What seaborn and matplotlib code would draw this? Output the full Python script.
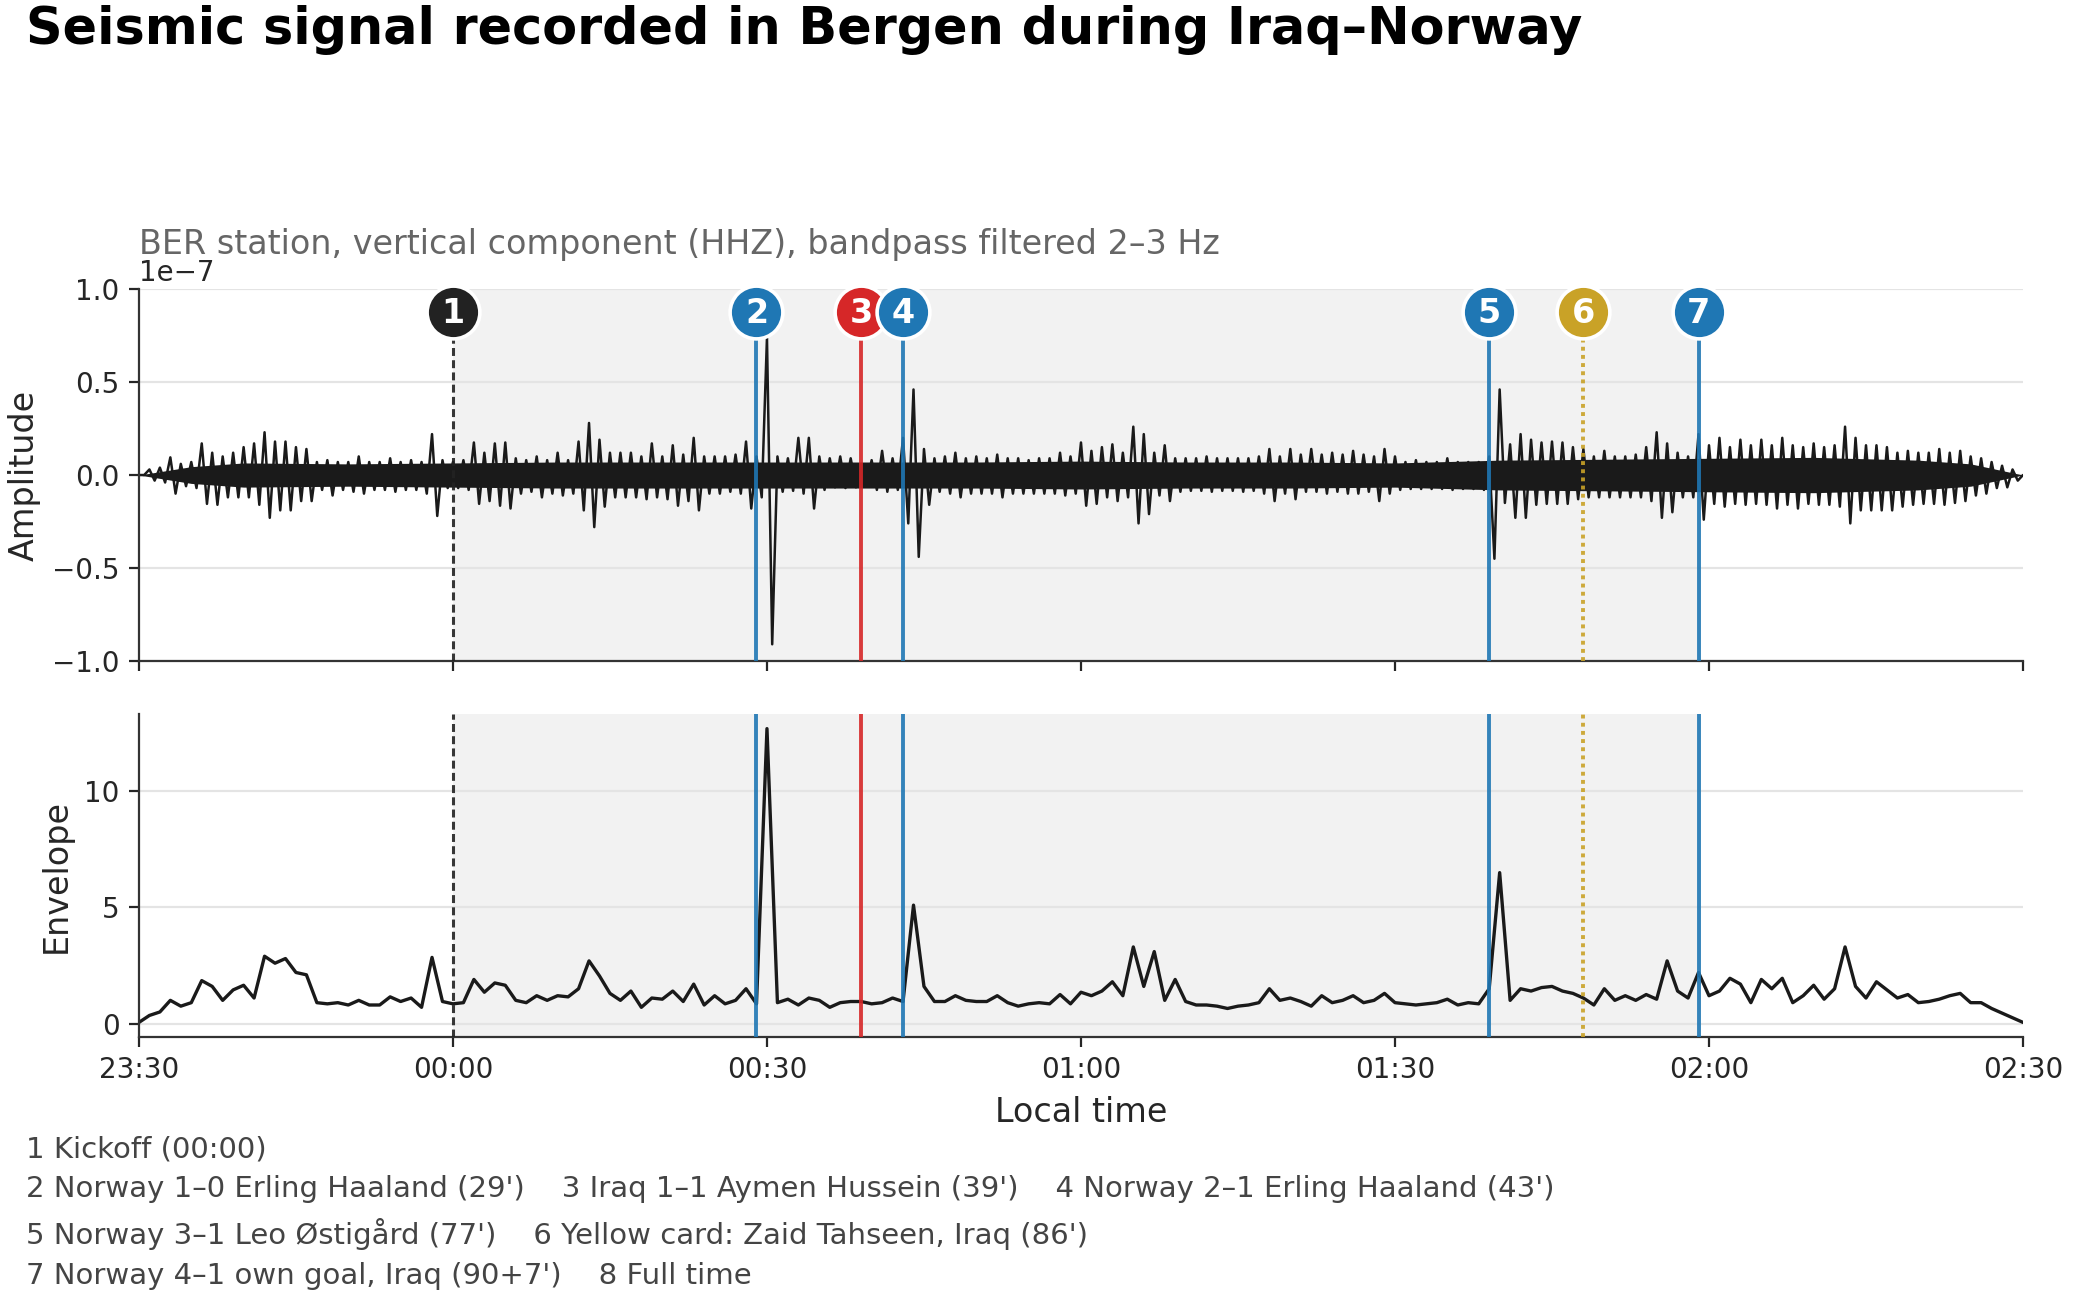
import numpy as np
import pandas as pd
import matplotlib
matplotlib.use("Agg")
import matplotlib.pyplot as plt
import matplotlib.transforms as mtransforms
import seaborn as sns

# readings are per minute after 23:30 local time (0..180)
envelope = [
    0.05, 0.35, 0.5, 1.0, 0.75, 0.9, 1.85, 1.6, 1.0, 1.45,
    1.65, 1.1, 2.9, 2.6, 2.8, 2.2, 2.1, 0.9, 0.85, 0.9,
    0.8, 1.0, 0.8, 0.8, 1.15, 0.95, 1.1, 0.7, 2.85, 0.95,
    0.85, 0.9, 1.9, 1.35, 1.75, 1.65, 1.0, 0.9, 1.2, 1.0,
    1.2, 1.15, 1.5, 2.7, 2.05, 1.3, 1.0, 1.4, 0.7, 1.1,
    1.05, 1.4, 0.95, 1.7, 0.8, 1.2, 0.85, 1.0, 1.5, 0.85,
    12.7, 0.9, 1.05, 0.8, 1.1, 1.0, 0.7, 0.9, 0.95, 0.95,
    0.85, 0.9, 1.1, 0.95, 5.1, 1.6, 0.95, 0.95, 1.2, 1.0,
    0.95, 0.95, 1.2, 0.9, 0.75, 0.85, 0.9, 0.85, 1.25, 0.85,
    1.35, 1.2, 1.4, 1.8, 1.2, 3.3, 1.6, 3.1, 1.0, 1.9,
    0.95, 0.8, 0.8, 0.75, 0.65, 0.75, 0.8, 0.9, 1.5, 1.0,
    1.1, 0.95, 0.75, 1.2, 0.9, 1.0, 1.2, 0.9, 1.0, 1.3,
    0.9, 0.85, 0.8, 0.85, 0.9, 1.05, 0.8, 0.9, 0.85, 1.5,
    6.5, 1.0, 1.5, 1.4, 1.55, 1.6, 1.4, 1.3, 1.1, 0.8,
    1.5, 1.0, 1.2, 1.0, 1.25, 1.05, 2.7, 1.4, 1.1, 2.2,
    1.2, 1.4, 1.95, 1.7, 0.9, 1.9, 1.5, 1.95, 0.9, 1.2,
    1.65, 1.05, 1.5, 3.3, 1.6, 1.1, 1.8, 1.45, 1.1, 1.25,
    0.9, 0.95, 1.05, 1.2, 1.3, 0.9, 0.9, 0.65, 0.45, 0.25, 0.05,
]

# waveform peaks (upper) and troughs (lower) per minute, in 1e-7
wave_hi = [
    0.0, 0.03, 0.04, 0.095, 0.06, 0.07, 0.17, 0.12, 0.1, 0.12,
    0.15, 0.17, 0.23, 0.18, 0.18, 0.15, 0.14, 0.07, 0.08, 0.07,
    0.07, 0.1, 0.07, 0.07, 0.09, 0.07, 0.08, 0.07, 0.22, 0.08,
    0.07, 0.08, 0.175, 0.12, 0.17, 0.175, 0.09, 0.08, 0.1, 0.08,
    0.12, 0.08, 0.18, 0.28, 0.19, 0.12, 0.12, 0.12, 0.1, 0.17,
    0.1, 0.16, 0.11, 0.2, 0.1, 0.1, 0.1, 0.11, 0.18, 0.1,
    0.74, 0.1, 0.09, 0.2, 0.2, 0.1, 0.09, 0.1, 0.09, 0.06,
    0.08, 0.13, 0.09, 0.2, 0.46, 0.14, 0.09, 0.1, 0.12, 0.09,
    0.1, 0.09, 0.11, 0.09, 0.09, 0.08, 0.09, 0.09, 0.12, 0.1,
    0.175, 0.13, 0.15, 0.165, 0.12, 0.26, 0.22, 0.12, 0.16, 0.09,
    0.09, 0.09, 0.1, 0.09, 0.09, 0.09, 0.09, 0.1, 0.14, 0.1,
    0.14, 0.11, 0.14, 0.11, 0.12, 0.11, 0.13, 0.11, 0.1, 0.14,
    0.1, 0.07, 0.08, 0.07, 0.07, 0.09, 0.07, 0.07, 0.07, 0.1,
    0.46, 0.165, 0.22, 0.19, 0.175, 0.18, 0.175, 0.15, 0.14, 0.1,
    0.13, 0.1, 0.1, 0.11, 0.15, 0.23, 0.17, 0.12, 0.1, 0.22,
    0.16, 0.2, 0.15, 0.19, 0.16, 0.19, 0.16, 0.2, 0.16, 0.15,
    0.17, 0.15, 0.16, 0.26, 0.2, 0.16, 0.16, 0.15, 0.12, 0.13,
    0.12, 0.12, 0.14, 0.12, 0.13, 0.1, 0.09, 0.07, 0.05, 0.03, 0.0,
]
wave_lo = [
    0.0, -0.03, -0.04, -0.1, -0.06, -0.07, -0.155, -0.16, -0.12, -0.12,
    -0.12, -0.16, -0.23, -0.19, -0.19, -0.14, -0.14, -0.08, -0.11, -0.08,
    -0.09, -0.1, -0.08, -0.08, -0.09, -0.08, -0.08, -0.1, -0.22, -0.07,
    -0.07, -0.08, -0.155, -0.14, -0.165, -0.18, -0.1, -0.09, -0.12, -0.1,
    -0.11, -0.1, -0.19, -0.28, -0.17, -0.12, -0.12, -0.12, -0.13, -0.12,
    -0.13, -0.165, -0.14, -0.19, -0.1, -0.1, -0.09, -0.1, -0.18, -0.12,
    -0.91, -0.09, -0.085, -0.1, -0.18, -0.08, -0.066, -0.07, -0.066, -0.06,
    -0.08, -0.09, -0.08, -0.26, -0.44, -0.16, -0.09, -0.1, -0.12, -0.1,
    -0.1, -0.1, -0.12, -0.1, -0.1, -0.1, -0.1, -0.1, -0.11, -0.1,
    -0.165, -0.155, -0.12, -0.14, -0.12, -0.26, -0.21, -0.11, -0.14, -0.09,
    -0.085, -0.085, -0.09, -0.085, -0.085, -0.09, -0.085, -0.1, -0.14, -0.1,
    -0.13, -0.09, -0.09, -0.1, -0.09, -0.1, -0.1, -0.09, -0.14, -0.1,
    -0.08, -0.075, -0.075, -0.075, -0.075, -0.08, -0.075, -0.075, -0.08, -0.45,
    -0.15, -0.23, -0.23, -0.16, -0.155, -0.155, -0.155, -0.13, -0.12, -0.12,
    -0.12, -0.12, -0.12, -0.12, -0.14, -0.23, -0.2, -0.12, -0.12, -0.24,
    -0.155, -0.17, -0.155, -0.16, -0.155, -0.16, -0.18, -0.16, -0.18, -0.155,
    -0.16, -0.16, -0.17, -0.26, -0.19, -0.19, -0.19, -0.19, -0.17, -0.16,
    -0.155, -0.155, -0.16, -0.15, -0.14, -0.11, -0.1, -0.07, -0.066, -0.03, 0.0,
]

# half-width of the solid core of the trace, in 1e-7
core_minutes = [0, 5, 10, 20, 30, 40, 50, 60, 70, 80, 90, 100, 110, 120,
                130, 140, 150, 160, 170, 175, 180]
core_width = [0.0, 0.045, 0.065, 0.06, 0.065, 0.07, 0.07, 0.07, 0.07, 0.07,
              0.075, 0.07, 0.07, 0.065, 0.08, 0.085, 0.09, 0.095, 0.08, 0.06, 0.0]

tick_minutes = [0, 30, 60, 90, 120, 150, 180]
tick_labels = ["23:30", "00:00", "00:30", "01:00", "01:30", "02:00", "02:30"]

event_ids = [1, 2, 3, 4, 5, 6, 7]
event_minutes = [30, 59, 69, 73, 129, 138, 149]
event_kinds = ["kickoff", "norway", "iraq", "norway", "norway", "card", "norway"]
kickoff_minute = 30
fulltime_minute = 149.2

notes = [
    "1 Kickoff (00:00)",
    "2 Norway 1–0 Erling Haaland (29')    3 Iraq 1–1 Aymen Hussein (39')    4 Norway 2–1 Erling Haaland (43')",
    "5 Norway 3–1 Leo Østigård (77')    6 Yellow card: Zaid Tahseen, Iraq (86')",
    "7 Norway 4–1 own goal, Iraq (90+7')    8 Full time",
]

styles = {
    "kickoff": dict(color="#222222", ls=(0, (2.6, 1.4)), lw=1.1),
    "norway": dict(color="#1f77b4", ls="-", lw=1.4),
    "iraq": dict(color="#d62728", ls="-", lw=1.4),
    "card": dict(color="#c9a227", ls=(0, (1, 1.1)), lw=1.4),
}

minutes = np.arange(len(envelope))
env_df = pd.DataFrame({"minute": minutes, "envelope": envelope})

# trace drawn as a zigzag: peak at each minute, trough half a minute later
wave_t = np.empty(2 * len(minutes))
wave_t[0::2] = minutes
wave_t[1::2] = minutes + 0.5
wave_y = np.empty(2 * len(minutes))
wave_y[0::2] = wave_hi
wave_y[1::2] = wave_lo
wave_df = pd.DataFrame({"minute": wave_t, "amp": wave_y * 1e-7})
core = np.array(core_width) * 1e-7

sns.set_style("ticks")
plt.rcParams["font.family"] = ["DejaVu Sans"]

fig = plt.figure(figsize=(10.4, 6.51))
ax1 = fig.add_axes([0.0668, 0.4923, 0.9058, 0.2857])
ax2 = fig.add_axes([0.0668, 0.2035, 0.9058, 0.2481], sharex=ax1)

ax1.fill_between(core_minutes, -core, core, color="#1a1a1a", lw=0, zorder=2)
sns.lineplot(data=wave_df, x="minute", y="amp", ax=ax1, color="#1a1a1a",
             lw=0.9, estimator=None, sort=False, zorder=2)
sns.lineplot(data=env_df, x="minute", y="envelope", ax=ax2, color="#1a1a1a",
             lw=1.2, estimator=None, zorder=2)

for ax in (ax1, ax2):
    ax.axvspan(kickoff_minute, fulltime_minute, color="0.5", alpha=0.1, lw=0, zorder=0)
    ax.grid(axis="y", color="#e4e4e4", lw=0.8)
    ax.set_axisbelow(True)
    ax.tick_params(labelsize=10)
    for side in ("left", "bottom"):
        ax.spines[side].set_color("#333333")
    sns.despine(ax=ax)

trans = mtransforms.blended_transform_factory(ax1.transData, ax1.transAxes)
for eid, m, kind in zip(event_ids, event_minutes, event_kinds):
    st = styles[kind]
    ax1.axvline(m, ymax=0.9, color=st["color"], ls=st["ls"], lw=st["lw"],
                alpha=0.9, zorder=3)
    ax2.axvline(m, color=st["color"], ls=st["ls"], lw=st["lw"], alpha=0.9, zorder=3)
    ax1.plot(m, 0.937, transform=trans, marker="o", ms=19, mfc=st["color"],
             mec="white", mew=1.3, clip_on=False, zorder=5)
    ax1.text(m, 0.935, str(eid), transform=trans, ha="center", va="center",
             color="white", fontsize=12, fontweight="bold", zorder=6)

ax1.set_xlim(0, 180)
ax1.set_ylim(-1e-7, 1e-7)
ax1.set_yticks([-1e-7, -0.5e-7, 0, 0.5e-7, 1e-7])
ax1.yaxis.get_offset_text().set_fontsize(10)
ax1.set_ylabel("Amplitude", fontsize=12)
ax1.set_xlabel("")
ax1.tick_params(axis="x", labelbottom=False)

ax2.set_ylim(-0.58, 13.33)
ax2.set_yticks([0, 5, 10])
ax2.set_xticks(tick_minutes)
ax2.set_xticklabels(tick_labels)
ax2.set_ylabel("Envelope", fontsize=12)
ax2.set_xlabel("Local time", fontsize=12)

ax1.text(0, 1.095, "BER station, vertical component (HHZ), bandpass filtered 2–3 Hz",
         transform=ax1.transAxes, fontsize=12, color="#666666", va="baseline")

fig.text(0.0125, 0.996, "Seismic signal recorded in Bergen during Iraq–Norway",
         fontsize=18.3, fontweight="bold", color="black", va="top", ha="left")

fig.text(0.0125, 0.128, "\n".join(notes), fontsize=10.5, color="#444444",
         va="top", ha="left", linespacing=1.55)

fig.savefig("out.png", dpi=200)
